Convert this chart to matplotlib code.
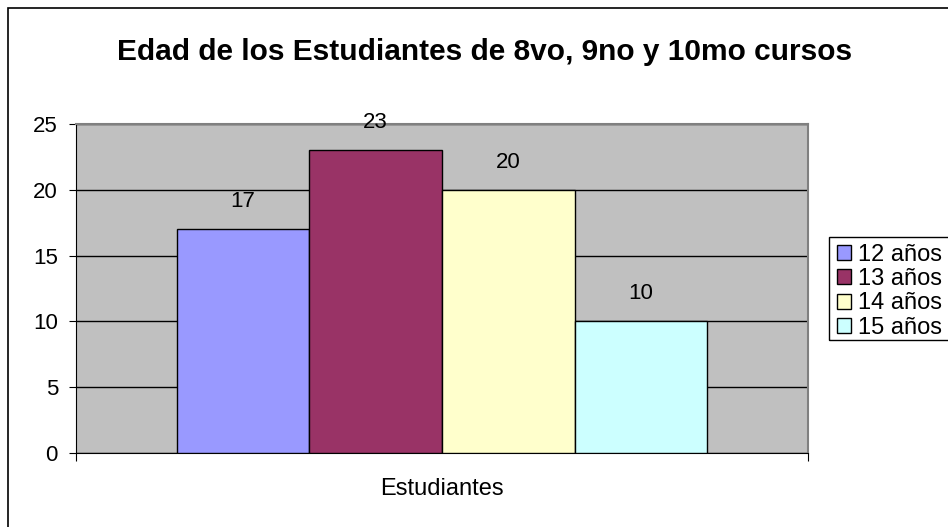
import matplotlib
matplotlib.use('Agg')
import matplotlib.pyplot as plt
from matplotlib.patches import Rectangle, Patch

plt.rcParams['font.family'] = ['Liberation Sans', 'DejaVu Sans']

categories = ['12 años', '13 años', '14 años', '15 años']
values = [17, 23, 20, 10]
colors = ['#9999FF', '#993366', '#FFFFCC', '#CCFFFF']
yticks = [0, 5, 10, 15, 20, 25]

W, H = 948, 527
fig = plt.figure(figsize=(W / 100, H / 100), dpi=100)

# outer chart border (runs off the right and bottom edges)
fig.patches.append(Rectangle((8 / W, -0.01), 1.0, 1 - 8 / H + 0.01,
                             transform=fig.transFigure, fill=False,
                             edgecolor='black', linewidth=1.2))

ax = fig.add_axes([76 / W, 1 - 453 / H, (808 - 76) / W, (453 - 124) / H])
ax.set_facecolor('#C0C0C0')

x = list(range(len(values)))
ax.bar(x, values, width=1.0, color=colors, edgecolor='black',
       linewidth=1.0, zorder=3)
for xi, v in zip(x, values):
    ax.text(xi, v + 2.1, str(v), ha='center', va='center', fontsize=16,
            zorder=4)

margin = 0.76
ax.set_xlim(-0.5 - margin, len(values) - 0.5 + margin)
ax.set_ylim(0, 25)
ax.set_yticks(yticks)
ax.tick_params(axis='y', labelsize=16, length=5, direction='out', pad=8)
ax.set_xticks([-0.5 - margin, len(values) - 0.5 + margin])
ax.set_xticklabels(['', ''])
ax.tick_params(axis='x', length=6, direction='out')
ax.yaxis.grid(True, color='black', linewidth=1.0, zorder=1)
ax.set_axisbelow(True)

ax.spines['top'].set_color('#808080')
ax.spines['right'].set_color('#808080')
ax.spines['top'].set_linewidth(1.5)
ax.spines['right'].set_linewidth(1.5)
ax.spines['left'].set_color('black')
ax.spines['bottom'].set_color('black')

ax.set_xlabel('Estudiantes', fontsize=17, va='center')
ax.xaxis.set_label_coords(0.5, -(489 - 453) / (453 - 124))

fig.text(485 / W, 1 - 52 / H, 'Edad de los Estudiantes de 8vo, 9no y 10mo cursos',
         ha='center', va='center', fontsize=21.5, fontweight='bold')

handles = [Patch(facecolor=c, edgecolor='black', label=l)
           for c, l in zip(colors, categories)]
leg = fig.legend(handles=handles, loc='upper left',
                 bbox_to_anchor=(832 / W, 1 - 239 / H), fontsize=17,
                 frameon=False,
                 handlelength=0.6, handleheight=0.6, handletextpad=0.3,
                 labelspacing=0.1, borderpad=0.2, borderaxespad=0)
# legend box runs off the right edge like in the original
fig.patches.append(Rectangle((829 / W, 1 - 340 / H), 0.2, (340 - 237) / H,
                             transform=fig.transFigure, fill=False,
                             edgecolor='black', linewidth=1.0))

fig.savefig('out.png', dpi=100)
